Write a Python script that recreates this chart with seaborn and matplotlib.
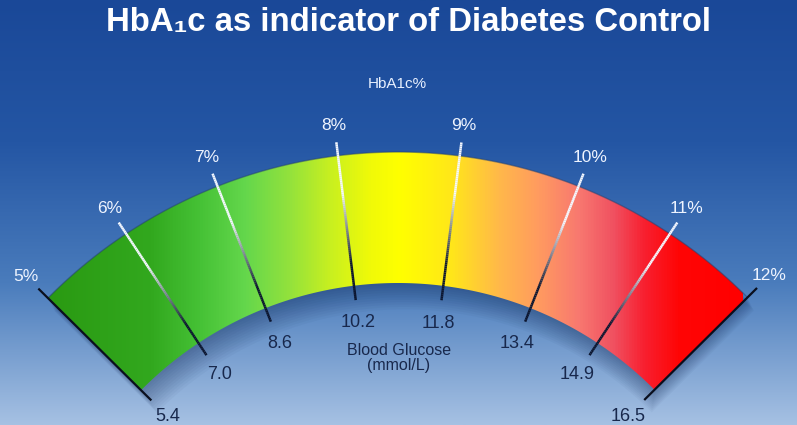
import numpy as np
import matplotlib
matplotlib.use("Agg")
import matplotlib.pyplot as plt
import seaborn as sns
from matplotlib.patches import Polygon
from matplotlib.collections import LineCollection
from matplotlib.colors import to_rgba, LinearSegmentedColormap

# ---- data ----
hba1c_labels = ["5%", "6%", "7%", "8%", "9%", "10%", "11%", "12%"]
glucose_labels = ["5.4", "7.0", "8.6", "10.2", "11.8", "13.4", "14.9", "16.5"]
title_text = "HbA\u2081c as indicator of Diabetes Control"
top_label = "HbA1c%"
bottom_label = "Blood Glucose\n(mmol/L)"

# gauge scale: angle (degrees) of each tick on the dial as drawn in the picture
tick_angle_deg = [135.3, 123.5, 111.5, 97.0, 82.8, 68.5, 56.5, 44.8]

sns.set_style("white")
plt.rcParams["font.family"] = ["Liberation Sans", "DejaVu Sans"]

W, H = 797, 425
fig = plt.figure(figsize=(W / 100, H / 100), dpi=100)
ax = fig.add_axes([0, 0, 1, 1])
ax.set_xlim(0, W)
ax.set_ylim(H, 0)
ax.axis("off")

# background gradient
bg_cmap = sns.blend_palette(["#1a4898", "#2456a4", "#4a7cbc", "#a6c1e3"], as_cmap=True)
grad = np.linspace(0, 1, 256).reshape(-1, 1)
ax.imshow(grad, cmap=bg_cmap, extent=[0, W, H, 0], aspect="auto", zorder=0)

# gauge geometry
cx, cy = 398.0, 644.5
r_out, r_in = 492.5, 361.5
a0, a1 = 135.3, 44.8
angles = np.radians(tick_angle_deg)
n = len(hba1c_labels)


def pt(r, th):
    return cx + r * np.cos(th), cy - r * np.sin(th)


th_arc = np.radians(np.linspace(a0, a1, 300))


def band_poly(ro, ri, dx=0.0, dy=0.0):
    xo, yo = pt(ro, th_arc)
    xi, yi = pt(ri, th_arc[::-1])
    return np.column_stack([np.r_[xo, xi] + dx, np.r_[yo, yi] + dy])


# soft shadow
for k in range(1, 12):
    ax.add_patch(Polygon(band_poly(r_out, r_in - k * 1.2, dx=k * 0.6, dy=k * 1.2),
                         closed=True, fc="#0a1f4a", ec="none", alpha=0.035, zorder=1))

# band with horizontal gradient
x_left, x_right = 48, 743
stops = [(48, "#2a9a12"), (150, "#32a81e"), (200, "#46c236"), (245, "#64d74c"),
         (290, "#94e23c"), (330, "#c8f020"), (370, "#f0fa08"), (400, "#ffff00"),
         (450, "#ffe818"), (500, "#ffb84a"), (540, "#ff9a60"), (580, "#f87870"),
         (615, "#f05060"), (645, "#f82030"), (680, "#ff0505"), (743, "#ff0000")]
band_cmap = LinearSegmentedColormap.from_list(
    "band", [((x - x_left) / (x_right - x_left), c) for x, c in stops])
poly = Polygon(band_poly(r_out, r_in), closed=True, fc="none", ec="none", zorder=2)
ax.add_patch(poly)
xs = np.linspace(0, 1, 512).reshape(1, -1)
img = ax.imshow(xs, cmap=band_cmap, extent=[x_left, x_right, 400, 140], aspect="auto", zorder=2)
img.set_clip_path(poly)
# subtle outer edge line
xo, yo = pt(r_out, th_arc)
ax.plot(xo, yo, color="#23406e", lw=1.0, alpha=0.5, zorder=3)

# ticks
dark = to_rgba("#0c1630")
white = to_rgba("#f4f8ff")
for i, th in enumerate(angles):
    if i == 0 or i == n - 1:
        x0, y0 = pt(506, th)
        x1, y1 = pt(347, th)
        ax.plot([x0, x1], [y0, y1], color="#0a0f1e", lw=1.6, solid_capstyle="butt", zorder=4)
    else:
        rs = np.linspace(506, 347, 80)
        px, py = pt(rs, th)
        segs = [[(px[j], py[j]), (px[j + 1], py[j + 1])] for j in range(len(rs) - 1)]
        cols = []
        for rr in rs[:-1]:
            t = np.clip((455 - rr) / (455 - 385), 0, 1)
            c = tuple(white[k] * (1 - t) + dark[k] * t for k in range(3)) + (1.0,)
            cols.append(c)
        ax.add_collection(LineCollection(segs, colors=cols, linewidths=1.8,
                                         capstyle="butt", zorder=4))
    # labels
    lx, ly = pt(523, th)
    ax.text(lx, ly, hba1c_labels[i], color="#eef4ff", fontsize=12.5,
            ha="center", va="center", zorder=5)
    gx, gy = pt(324, th)
    ax.text(gx, gy, glucose_labels[i], color="#18284c", fontsize=13,
            ha="center", va="center", zorder=5)

ax.text(397, 84, top_label, color="#e8f0ff", fontsize=11, ha="center", va="center", zorder=5)
ax.text(399, 358, bottom_label, color="#18284c", fontsize=11.5, ha="center", va="center",
        linespacing=0.95, zorder=5)

t = ax.text(409, 22, title_text, color="white", fontsize=21, fontweight="bold",
            ha="center", va="center", zorder=5)
fig.canvas.draw()
bb = t.get_window_extent()
t.set_fontsize(21 * 604 / bb.width)

fig.savefig("out.png", dpi=100)
